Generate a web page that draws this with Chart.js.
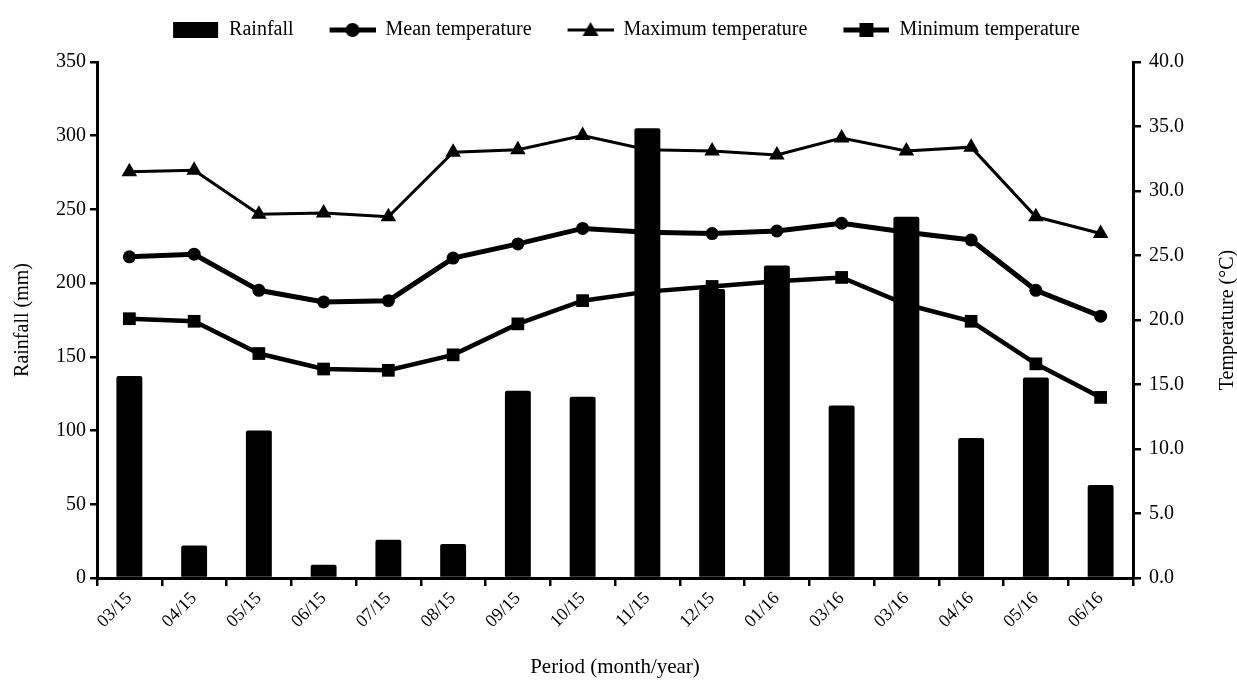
<!DOCTYPE html>
<html>
<head>
<meta charset="utf-8">
<script src="https://cdn.jsdelivr.net/npm/chart.js@4.4.1/dist/chart.umd.min.js"></script>
<style>
  html, body { margin: 0; padding: 0; background: #fff; }
  #wrap { width: 1237px; height: 682px; }
</style>
</head>
<body>
<div id="wrap"><canvas id="chart" width="1237" height="682"></canvas></div>
<script>
const periods = ['03/15', '04/15', '05/15', '06/15', '07/15', '08/15', '09/15', '10/15',
  '11/15', '12/15', '01/16', '03/16', '03/16', '04/16', '05/16', '06/16'];
const rainfall = [137, 22, 100, 9, 26, 23, 127, 123, 305, 196, 212, 117, 245, 95, 136, 63];
const meanTemp = [24.9, 25.1, 22.3, 21.4, 21.5, 24.8, 25.9, 27.1, 26.8, 26.7, 26.9, 27.5, 26.8, 26.2, 22.3, 20.3];
const maxTemp = [31.5, 31.6, 28.2, 28.3, 28.0, 33.0, 33.2, 34.3, 33.2, 33.1, 32.8, 34.1, 33.1, 33.4, 28.0, 26.7];
const minTemp = [20.1, 19.9, 17.4, 16.2, 16.1, 17.3, 19.7, 21.5, 22.2, 22.6, 23.0, 23.3, 21.2, 19.9, 16.6, 14.0];
const rainTicks = [0, 50, 100, 150, 200, 250, 300, 350];
const tempTicks = [0, 5, 10, 15, 20, 25, 30, 35, 40];
const rightTitle = 'Temperature (\u00B0C)';

const serif = 'Liberation Serif';

// legend icons: line with marker, or a plain box for the bars
function legendIcon(kind, lw) {
  const c = document.createElement('canvas');
  c.width = 62; c.height = 20;
  const g = c.getContext('2d');
  g.fillStyle = '#000'; g.strokeStyle = '#000';
  const x0 = 16, cx = 16 + 23, cy = 10;
  if (kind === 'box') {
    g.fillRect(x0, 2, 45, 16);
    return c;
  }
  g.lineWidth = lw;
  g.beginPath(); g.moveTo(x0, cy); g.lineTo(62, cy); g.stroke();
  g.beginPath();
  if (kind === 'circle') {
    g.arc(cx, cy, 7, 0, Math.PI * 2);
  } else if (kind === 'triangle') {
    g.moveTo(cx, cy - 8); g.lineTo(cx + 8, cy + 6); g.lineTo(cx - 8, cy + 6); g.closePath();
  } else {
    g.rect(cx - 7, cy - 7, 14, 14);
  }
  g.fill();
  return c;
}

const icons = [legendIcon('box'), legendIcon('circle', 5), legendIcon('triangle', 3), legendIcon('square', 5)];

// push the plot down a little below the legend
const legendGap = {
  id: 'legendGap',
  beforeLayout(chart) {
    const lg = chart.legend;
    if (lg && !lg._gapPatched) {
      const fit = lg.fit;
      lg.fit = function () { fit.call(this); this.height += 12; };
      lg._gapPatched = true;
    }
  }
};

const rightTitlePlugin = {
  id: 'rightTitle',
  afterDraw(chart) {
    const { ctx, chartArea } = chart;
    ctx.save();
    ctx.translate(1228, (chartArea.top + chartArea.bottom) / 2);
    ctx.rotate(-Math.PI / 2);
    ctx.font = '20px "' + serif + '"';
    ctx.fillStyle = '#000';
    ctx.textAlign = 'center';
    ctx.textBaseline = 'middle';
    ctx.fillText(rightTitle, 0, 0);
    ctx.restore();
  }
};

const ctx = document.getElementById('chart').getContext('2d');

new Chart(ctx, {
  type: 'bar',
  data: {
    labels: periods,
    datasets: [
      {
        label: 'Rainfall',
        data: rainfall,
        yAxisID: 'y',
        backgroundColor: '#000',
        borderRadius: 2,
        barPercentage: 0.4,
        categoryPercentage: 1,
        order: 0
      },
      {
        label: 'Mean temperature',
        type: 'line',
        data: meanTemp,
        yAxisID: 'y1',
        borderColor: '#000',
        backgroundColor: '#000',
        borderWidth: 5,
        pointStyle: 'circle',
        pointRadius: 6.5,
        pointBorderWidth: 0,
        order: 1
      },
      {
        label: 'Maximum temperature',
        type: 'line',
        data: maxTemp,
        yAxisID: 'y1',
        borderColor: '#000',
        backgroundColor: '#000',
        borderWidth: 3,
        pointStyle: 'triangle',
        pointRadius: 9,
        pointBorderWidth: 0,
        order: 1
      },
      {
        label: 'Minimum temperature',
        type: 'line',
        data: minTemp,
        yAxisID: 'y1',
        borderColor: '#000',
        backgroundColor: '#000',
        borderWidth: 4.5,
        pointStyle: 'rect',
        pointRadius: 9,
        pointBorderWidth: 0,
        order: 1
      }
    ]
  },
  options: {
    responsive: false,
    animation: false,
    layout: { padding: { top: 0, left: 0, right: 0, bottom: 0 } },
    plugins: {
      tooltip: { enabled: false },
      legend: {
        position: 'top',
        labels: {
          color: '#000',
          font: { family: serif, size: 20 },
          usePointStyle: true,
          pointStyleWidth: 62,
          padding: 20,
          generateLabels(chart) {
            return chart.data.datasets.map((ds, i) => ({
              text: ds.label,
              pointStyle: icons[i],
              fillStyle: '#000',
              strokeStyle: '#000',
              lineWidth: 0,
              fontColor: '#000',
              datasetIndex: i,
              hidden: false
            }));
          }
        }
      }
    },
    scales: {
      x: {
        offset: true,
        grid: { offset: true, drawOnChartArea: false, drawTicks: true, tickLength: 8, lineWidth: 2.5, color: '#000' },
        border: { display: true, color: '#000', width: 3 },
        ticks: {
          color: '#000',
          font: { family: serif, size: 18 },
          minRotation: 45,
          maxRotation: 45,
          padding: 2
        },
        title: {
          display: true,
          text: 'Period (month/year)',
          color: '#000',
          font: { family: serif, size: 21 },
          padding: { top: 0, bottom: 2 }
        },
        afterFit(scale) { scale.height = 104; }
      },
      y: {
        position: 'left',
        min: 0,
        max: 350,
        afterBuildTicks(scale) { scale.ticks = rainTicks.map(v => ({ value: v })); },
        grid: { drawOnChartArea: false, drawTicks: true, tickLength: 7, lineWidth: 2.5, color: '#000' },
        border: { display: true, color: '#000', width: 3 },
        ticks: {
          color: '#000',
          font: { family: serif, size: 20 },
          padding: 4
        },
        title: {
          display: true,
          text: 'Rainfall (mm)',
          color: '#000',
          font: { family: serif, size: 20 },
          padding: { top: 11, bottom: 0 }
        },
        afterFit(scale) { scale.width = 97; }
      },
      y1: {
        position: 'right',
        min: 0,
        max: 40,
        afterBuildTicks(scale) { scale.ticks = tempTicks.map(v => ({ value: v })); },
        grid: { drawOnChartArea: false, drawTicks: true, tickLength: 8, lineWidth: 2.5, color: '#000' },
        border: { display: true, color: '#000', width: 3 },
        ticks: {
          color: '#000',
          font: { family: serif, size: 20 },
          padding: 8,
          callback: v => v.toFixed(1)
        },
        afterFit(scale) { scale.width = 104; }
      }
    }
  },
  plugins: [legendGap, rightTitlePlugin]
});
</script>
</body>
</html>
